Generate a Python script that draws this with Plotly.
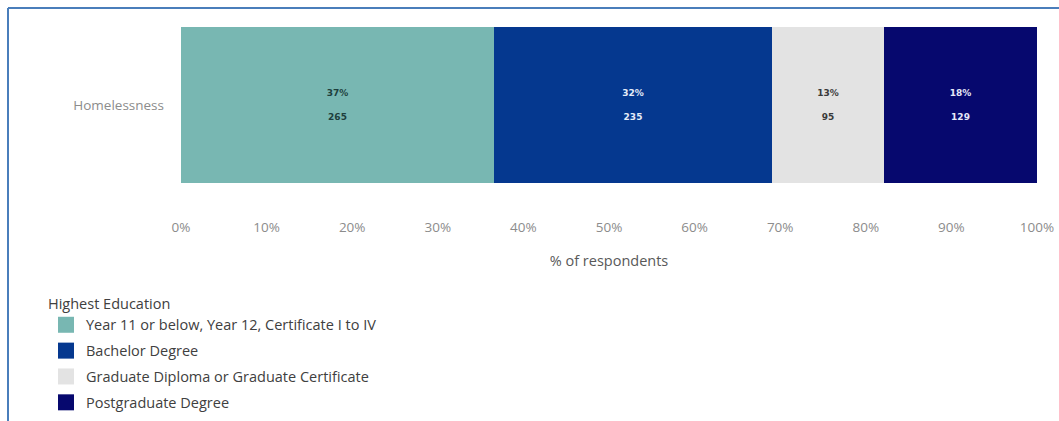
import plotly.graph_objects as go

category = "Homelessness"
education_levels = [
    "Year 11 or below, Year 12, Certificate I to IV",
    "Bachelor Degree",
    "Graduate Diploma or Graduate Certificate",
    "Postgraduate Degree",
]
counts = [265, 235, 95, 129]
colors = ["#78b7b2", "#05388f", "#e3e3e3", "#06086e"]
text_colors = ["#1e3f3d", "#e6ecf8", "#3a3a3a", "#e6e8f8"]
tick_vals = [0, 10, 20, 30, 40, 50, 60, 70, 80, 90, 100]
tick_text = [f"{v}%" for v in tick_vals]

total = sum(counts)
pcts = [c / total * 100 for c in counts]

fig = go.Figure()
for name, cnt, pct, col, tcol in zip(education_levels, counts, pcts, colors, text_colors):
    fig.add_trace(go.Bar(
        y=[category], x=[pct], orientation="h", name=name,
        marker=dict(color=col, line=dict(width=0)),
        text=[f"<b>{pct:.0f}%</b><br><br><b>{cnt}</b>"], textposition="inside",
        insidetextanchor="middle", textangle=0,
        textfont=dict(size=9, color=tcol, family="DejaVu Sans"),
        showlegend=False, hoverinfo="skip",
    ))
# legend entries with larger square swatches
for i, (name, col) in enumerate(zip(education_levels, colors)):
    fig.add_trace(go.Scatter(
        x=[None], y=[None], mode="markers", name=name, legendgroup=f"g{i}",
        marker=dict(symbol="square", size=18, color=col),
    ))

W, H = 1059, 421
L, R, T, B = 181, 22, 27, 238
pw, ph = W - L - R, H - T - B

def px(x):
    return (x - L) / pw

def py(y):
    return 1 - (y - T) / ph

fig.update_layout(
    width=W, height=H, barmode="stack", bargap=0,
    margin=dict(l=L, r=R, t=T, b=B, autoexpand=False),
    paper_bgcolor="white", plot_bgcolor="white",
    font=dict(family="Open Sans", color="#595959"),
    xaxis=dict(range=[0, 100], tickvals=tick_vals, ticktext=tick_text,
               tickfont=dict(size=13.5, color="#8c8c8c"), showgrid=False,
               zeroline=False, showline=False, ticklabelstandoff=34,
               title=dict(text="% of respondents", font=dict(size=14.5, color="#595959"), standoff=21),
               fixedrange=True),
    yaxis=dict(range=[-0.5, 0.5], tickfont=dict(size=13.5, color="#8c8c8c"),
               showgrid=False, zeroline=False, showline=False, ticklabelstandoff=16,
               fixedrange=True),
    legend=dict(
        title=dict(text="Highest Education", font=dict(size=14.5, color="#404040")),
        font=dict(size=14.5, color="#404040"),
        x=px(46), y=py(290), xanchor="left", yanchor="top",
        tracegroupgap=4, bgcolor="rgba(0,0,0,0)",
    ),
    shapes=[
        dict(type="line", xref="paper", yref="paper", x0=px(8), x1=px(1059),
             y0=py(8), y1=py(8), line=dict(color="#4a7ebb", width=2)),
        dict(type="line", xref="paper", yref="paper", x0=px(8), x1=px(8),
             y0=py(8), y1=py(421), line=dict(color="#4a7ebb", width=2)),
    ],
)

fig.write_html("out.html")
